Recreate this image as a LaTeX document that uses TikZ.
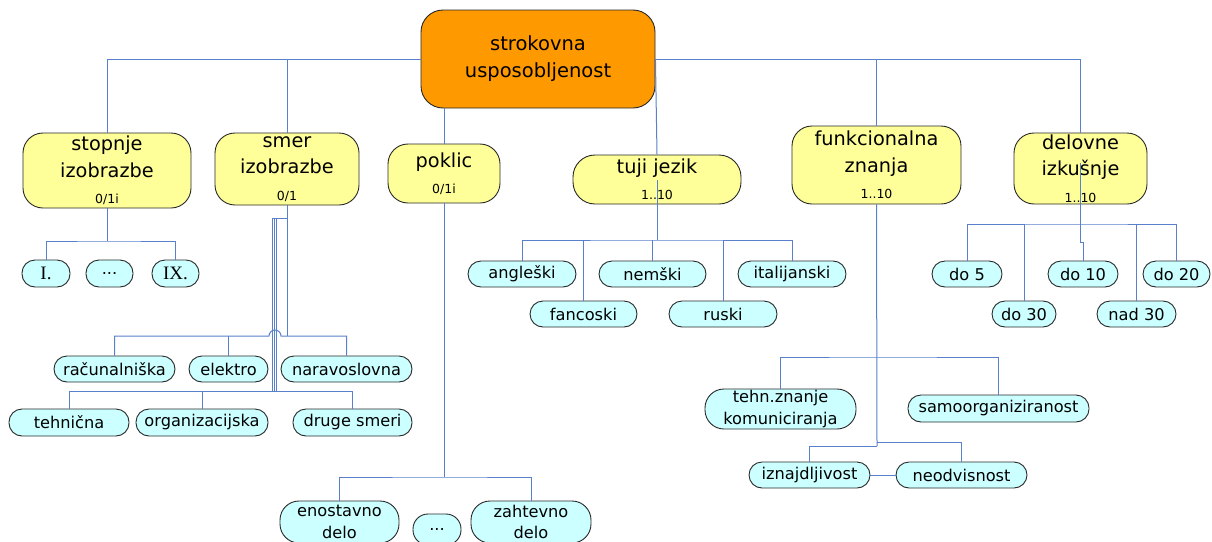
\documentclass[tikz,border=0pt]{standalone}
\usepackage{fontspec}
\setmainfont{DejaVu Sans}
\newfontfamily\romfont{Liberation Serif}
\definecolor{lineblue}{RGB}{88,128,205}
\definecolor{bordc}{RGB}{40,40,40}
\definecolor{yfill}{RGB}{255,255,153}
\definecolor{cfill}{RGB}{204,255,255}
\definecolor{ofill}{RGB}{255,153,0}
\newcommand\mainsz{\fontsize{19.3}{26.5}\selectfont}
\newcommand\smallsz{\fontsize{12.5}{26.5}\selectfont}
\newcommand\csz{\fontsize{16.2}{21.5}\selectfont}
\tikzset{
  conn/.style={draw=lineblue, line width=1pt},
  rootbox/.style={draw=bordc, line width=0.9pt, fill=ofill, rounded corners=22pt, inner sep=0pt, align=center, font=\fontsize{19.5}{27}\selectfont},
  ybox/.style={draw=bordc, line width=0.9pt, fill=yfill, rounded corners=20pt, inner sep=0pt, align=center, font=\mainsz},
  cbox/.style={draw=bordc, line width=0.9pt, fill=cfill, rounded corners=13pt, inner sep=0pt, align=center, font=\csz, minimum height=26pt},
  tallc/.style={cbox, rounded corners=19pt},
}
\begin{document}
\begin{tikzpicture}[x=1pt,y=-1pt]
\useasboundingbox (0,0) rectangle (1212,541);
\clip (0,0) rectangle (1212,541);
\fill[white] (0,0) rectangle (1212,541);

% root
\node[rootbox, minimum width=234pt, minimum height=98pt] (root) at (538,59) {strokovna\\usposobljenost};

% second level
\node[ybox, minimum width=168pt, minimum height=75pt] (stop) at (107,170.5) {stopnje\\izobrazbe\\{\smallsz 0/1i}};
\node[ybox, minimum width=144pt, minimum height=72pt] (smer) at (287,169) {smer\\izobrazbe\\{\smallsz 0/1}};
\node[ybox, minimum width=112pt, minimum height=59pt] (pokl) at (444,173.5) {poklic\\{\smallsz 0/1i}};
\node[ybox, minimum width=168pt, minimum height=49pt, rounded corners=22pt] (tuji) at (657,179.5) {tuji jezik\\{\smallsz 1..10}};
\node[ybox, minimum width=169pt, minimum height=78pt] (funk) at (876.5,165) {funkcionalna\\znanja\\{\smallsz 1..10}};
\node[ybox, minimum width=133pt, minimum height=71pt] (delo) at (1080.5,168.5) {delovne\\izkušnje\\{\smallsz 1..10}};

% stopnje children
\node[cbox, minimum width=48pt, minimum height=27pt, font=\romfont\fontsize{19}{20}\selectfont] (s1) at (46,273.5) {I.};
\node[cbox, minimum width=47pt, minimum height=27pt] (s2) at (109.5,273.5) {...};
\node[cbox, minimum width=47pt, minimum height=27pt, font=\romfont\fontsize{19}{20}\selectfont] (s9) at (175.5,273.5) {IX.};

% smer children
\node[cbox, minimum width=121pt] (rac) at (114.5,369) {računalniška};
\node[cbox, minimum width=79pt] (elek) at (228.5,369) {elektro};
\node[cbox, minimum width=131pt] (nar) at (346.5,369) {naravoslovna};
\node[cbox, minimum width=120pt, minimum height=27pt] (teh) at (69,422.5) {tehnična};
\node[cbox, minimum width=132pt, minimum height=27pt] (org) at (202,422.5) {organizacijska};
\node[cbox, minimum width=119pt, minimum height=27pt] (dru) at (352.5,422.5) {druge smeri};

% poklic children
\node[tallc, minimum width=119pt, minimum height=42pt] (eno) at (339.5,522) {enostavno\\delo};
\node[cbox, minimum width=48pt, minimum height=31pt, rounded corners=15pt] (pdots) at (437,529.5) {...};
\node[tallc, minimum width=120pt, minimum height=42pt] (zah) at (531,522) {zahtevno\\delo};

% tuji children
\node[cbox, minimum width=108pt] (ang) at (522,274) {angleški};
\node[cbox, minimum width=107pt] (nem) at (652.5,274) {nemški};
\node[cbox, minimum width=108pt] (ita) at (792,274) {italijanski};
\node[cbox, minimum width=107pt] (fan) at (583.5,314) {fancoski};
\node[cbox, minimum width=108pt] (rus) at (723,314) {ruski};

% delovne children
\node[cbox, minimum width=70pt] (d5) at (967,274) {do 5};
\node[cbox, minimum width=70pt] (d10) at (1083,274) {do 10};
\node[cbox, minimum width=67pt] (d20) at (1176.5,274) {do 20};
\node[cbox, minimum width=64pt] (d30) at (1024,314) {do 30};
\node[cbox, minimum width=79pt] (n30) at (1136.5,314) {nad 30};

% funkcionalna children
\node[tallc, minimum width=151pt, minimum height=40pt] (tz) at (780.5,409) {tehn.znanje\\komuniciranja};
\node[cbox, minimum width=181pt, minimum height=27pt] (sam) at (998.5,408.5) {samoorganiziranost};
\node[cbox, minimum width=121pt] (izn) at (809.5,475) {iznajdljivost};
\node[cbox, minimum width=131pt] (neo) at (961.5,475) {neodvisnost};

% ---- connectors ----
% root to level 2
\draw[conn] (root.west) -| (stop.north);
\draw[conn] (smer.north |- root.west) -- (smer.north);
\draw[conn] (pokl.north |- root.south) -- (pokl.north);
\draw[conn] (root.east) -- (tuji.north);
\draw[conn] (root.east) -| (delo.north);
\draw[conn] (funk.north |- root.east) -- (funk.north);

% stopnje
\coordinate (sb) at (107,241);
\draw[conn] (stop.south) -- (sb);
\draw[conn] (s1.north) |- (sb) -| (s9.north);

% smer
\coordinate (r1) at (287,336);
\coordinate (r2) at (274,391);
\coordinate (sj) at (287,218);
\draw[conn] (smer.south) -- (r1);
\draw[conn] (rac.north) |- (269,336) arc[start angle=180,end angle=0,radius=6pt] -| (nar.north);
\draw[conn] (elek.north) -- (elek.north |- r1);
\foreach \xx in {272.7,274.2,276} {
  \draw[conn, line width=0.7pt] (sj) -| (\xx,391);
}
\draw[conn] (teh.north) |- (dru.north |- r2) -- (dru.north);
\draw[conn] (org.north) -- (org.north |- r2);

% poklic
\coordinate (pb) at (444,477);
\draw[conn] (pokl.south) -- (pb);
\draw[conn] (eno.north) |- (pb) -| (zah.north);

% tuji jezik
\coordinate (tin) at (657,180);
\coordinate (tb) at (657,240);
\draw[conn] (tin) -- (tb);
\draw[conn] (ang.north) |- (tb) -| (ita.north);
\draw[conn] (fan.north) -- (fan.north |- tb);
\draw[conn] (nem.north) -- (nem.north |- tb);
\draw[conn] (rus.north) -- (rus.north |- tb);

% delovne
\coordinate (din) at (1080,163);
\coordinate (db) at (1080,224);
\draw[conn] (din) -- (db);
\draw[conn] (d5.north) |- (db) -| (d20.north);
\draw[conn] (d30.north) -- (d30.north |- db);
\draw[conn] (n30.north) -- (n30.north |- db);
\draw[conn] (db) -- (1080,242) -| (d10.north);

% funkcionalna
\coordinate (fb1) at (877,357);
\coordinate (fb2) at (877,442);
\coordinate (fb3) at (877,446);
\draw[conn] (funk.south) -- (fb3);
\draw[conn] (tz.north) |- (fb1) -| (sam.north);
\draw[conn] (fb2) -| (neo.north);
\draw[conn] (fb3) -| (izn.north);
\draw[conn] (izn.east) -- (neo.west);
\end{tikzpicture}
\end{document}
